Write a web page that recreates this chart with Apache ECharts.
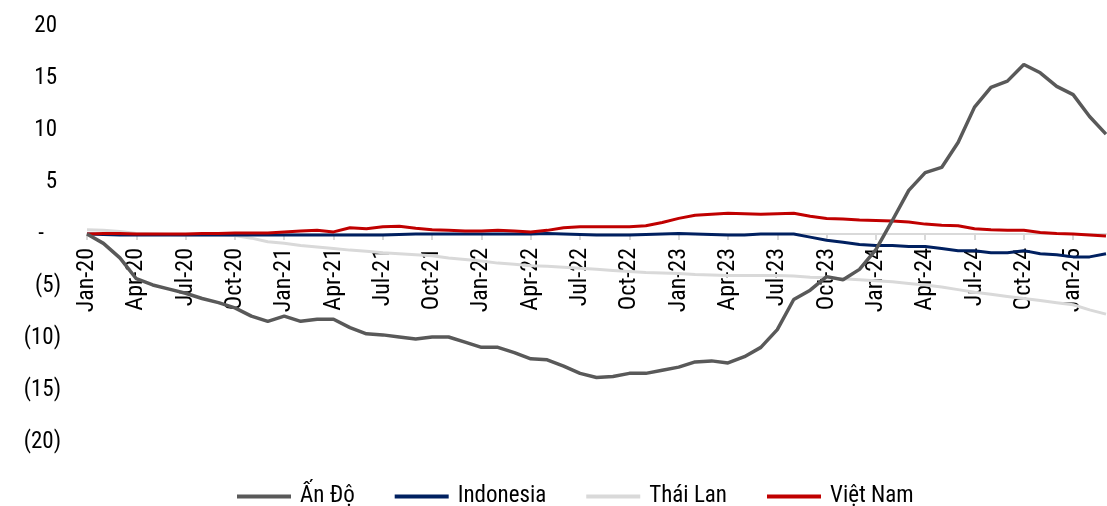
<!DOCTYPE html>
<html>
<head>
<meta charset="utf-8">
<script src="https://cdn.jsdelivr.net/npm/echarts@6/dist/echarts.min.js"></script>
<style>
html,body{margin:0;padding:0;background:#fff;}
#chart{width:1107px;height:506px;}
</style>
</head>
<body>
<div id="chart"></div>
<script>
// ---- DATA ----
const monthNames = ['Jan','Feb','Mar','Apr','May','Jun','Jul','Aug','Sep','Oct','Nov','Dec'];
const years = ['20','21','22','23','24','25'];
const lastYearMonths = 3; // data runs Jan-20 .. Mar-25

const seriesNames = ['Ấn Độ','Indonesia','Thái Lan','Việt Nam'];

const anDo = [
  0, -0.9, -2.3, -4.3, -4.9, -5.3, -5.7, -6.2, -6.6, -7.1, -7.9, -8.4,
  -7.9, -8.4, -8.2, -8.2, -9.0, -9.6, -9.7, -9.9, -10.1, -9.9, -9.9, -10.4,
  -10.9, -10.9, -11.4, -12.0, -12.1, -12.7, -13.4, -13.8, -13.7, -13.4, -13.4, -13.1,
  -12.8, -12.3, -12.2, -12.4, -11.8, -10.9, -9.2, -6.3, -5.4, -4.1, -4.4, -3.4,
  -1.5, 1.3, 4.2, 5.9, 6.4, 8.8, 12.2, 14.1, 14.7, 16.3, 15.5, 14.2,
  13.4, 11.3, 9.6
];
const indonesia = [
  0, -0.05, -0.1, -0.1, -0.1, -0.1, -0.1, -0.1, -0.1, -0.1, -0.1, -0.1,
  -0.1, -0.1, -0.1, -0.1, -0.1, -0.1, -0.1, -0.05, 0, 0, 0, 0,
  0, 0, 0, 0, 0.05, 0, -0.05, -0.1, -0.1, -0.1, -0.05, 0,
  0.05, 0, -0.05, -0.1, -0.1, 0, 0, 0, -0.3, -0.6, -0.8, -1.0,
  -1.1, -1.1, -1.2, -1.2, -1.4, -1.6, -1.6, -1.8, -1.8, -1.6, -1.9, -2.0,
  -2.2, -2.2, -1.9
];
const thaiLan = [
  0.4, 0.35, 0.25, 0.05, 0, -0.05, -0.1, -0.1, -0.1, -0.15, -0.4, -0.75,
  -0.9, -1.1, -1.25, -1.4, -1.55, -1.65, -1.8, -1.9, -2.0, -2.1, -2.3, -2.45,
  -2.6, -2.8, -2.9, -3.05, -3.1, -3.2, -3.3, -3.4, -3.5, -3.6, -3.7, -3.75,
  -3.8, -3.9, -3.95, -4.0, -4.0, -4.0, -4.0, -4.05, -4.15, -4.2, -4.3, -4.4,
  -4.5, -4.6, -4.75, -4.9, -5.1, -5.35, -5.6, -5.8, -6.0, -6.2, -6.4, -6.6,
  -6.8, -7.3, -7.7
];
const vietNam = [
  0, 0.05, 0.05, 0, 0, 0, 0, 0.05, 0.05, 0.1, 0.1, 0.1,
  0.2, 0.3, 0.35, 0.2, 0.6, 0.5, 0.7, 0.75, 0.55, 0.4, 0.35, 0.3,
  0.3, 0.35, 0.3, 0.2, 0.35, 0.6, 0.7, 0.7, 0.7, 0.7, 0.8, 1.1,
  1.5, 1.8, 1.9, 2.0, 1.95, 1.9, 1.95, 2.0, 1.7, 1.5, 1.45, 1.35,
  1.3, 1.25, 1.15, 0.95, 0.85, 0.8, 0.5, 0.4, 0.35, 0.35, 0.15, 0.05,
  0, -0.1, -0.2
];

const yMin = -20, yMax = 20, yStep = 5;

// ---- BUILD ----
const categories = [];
years.forEach((y, i) => {
  const n = (i === years.length - 1) ? lastYearMonths : 12;
  for (let m = 0; m < n; m++) categories.push(monthNames[m] + '-' + y);
});

const FONT = '"Roboto Condensed","Liberation Sans Narrow","Arial Narrow",sans-serif';
const colors = {
  'Ấn Độ': '#595959',
  'Indonesia': '#002060',
  'Thái Lan': '#d9d9d9',
  'Việt Nam': '#c00000'
};
const dataMap = {
  'Ấn Độ': anDo,
  'Indonesia': indonesia,
  'Thái Lan': thaiLan,
  'Việt Nam': vietNam
};
const drawOrder = ['Thái Lan','Indonesia','Việt Nam','Ấn Độ'];

const GRID_TOP = 26, GRID_BOTTOM = 64, H = 506;
const plotH = H - GRID_TOP - GRID_BOTTOM;
const zeroOffset = -plotH * (0 - yMin) / (yMax - yMin); // move x axis up to y = 0

const chart = echarts.init(document.getElementById('chart'), null, {renderer: 'canvas'});
chart.setOption({
  animation: false,
  backgroundColor: '#ffffff',
  grid: {left: 87, right: 1, top: GRID_TOP, bottom: GRID_BOTTOM, containLabel: false, outerBoundsMode: 'none'},
  legend: {
    data: seriesNames.map(n => ({name: n, icon: 'rect'})),
    left: 237,
    top: 485,
    padding: 0,
    itemWidth: 54,
    itemHeight: 4,
    itemGap: 40,
    formatter: function (name) { return '{t|' + name + '}'; },
    textStyle: {
      fontFamily: FONT, fontSize: 23, color: '#000',
      rich: {t: {fontFamily: FONT, fontSize: 23, color: '#000', padding: [0, 0, 0, 4]}}
    }
  },
  xAxis: {
    type: 'category',
    data: categories,
    boundaryGap: false,
    offset: zeroOffset,
    axisLine: {onZero: false, lineStyle: {color: '#d9d9d9', width: 2}},
    axisTick: {show: true, interval: 2, length: 6, lineStyle: {color: '#d9d9d9', width: 2}},
    axisLabel: {interval: 2, rotate: 90, margin: 14, fontFamily: FONT, fontSize: 24, color: '#000'},
    splitLine: {show: false}
  },
  yAxis: {
    type: 'value',
    min: yMin, max: yMax, interval: yStep,
    axisLine: {show: false},
    axisTick: {show: false},
    splitLine: {show: false},
    axisLabel: {
      margin: 26,
      fontFamily: FONT, fontSize: 23, color: '#000',
      formatter: function (v) {
        if (v > 0) return '{p|' + v + '}';
        if (v === 0) return '{z|-}';
        return '(' + Math.abs(v) + ')';
      },
      rich: {
        p: {fontFamily: FONT, fontSize: 23, color: '#000', padding: [0, 4, 0, 0]},
        z: {fontFamily: FONT, fontSize: 23, color: '#000', padding: [0, 17, 0, 0]}
      }
    }
  },
  series: drawOrder.map(n => ({
    name: n,
    type: 'line',
    data: dataMap[n],
    showSymbol: false,
    symbol: 'none',
    smooth: false,
    lineStyle: {color: colors[n], width: n === 'Ấn Độ' ? 3.5 : 3},
    itemStyle: {color: colors[n]}
  }))
});
</script>
</body>
</html>
